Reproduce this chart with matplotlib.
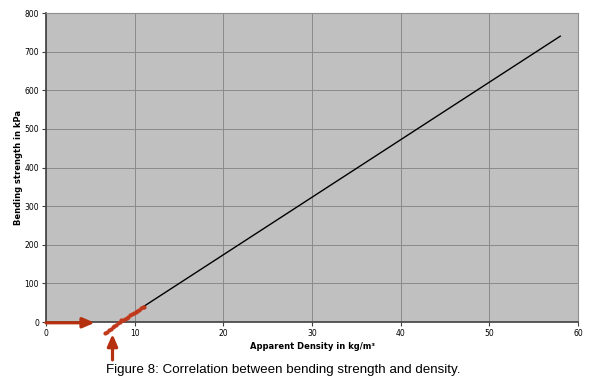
import matplotlib.pyplot as plt

# measured samples (red) and linear trend (black)
density = [6.7, 6.9, 7.1, 7.3, 7.5, 7.7, 7.9, 8.1, 8.3, 8.5, 8.7, 8.9, 9.1, 9.3, 9.5, 9.7, 9.9, 10.1, 10.3, 10.5, 10.7, 10.9, 11.0]
strength = [-29, -25, -22, -18, -14, -11, -7, -3, 0, 4, 6, 8, 11, 13, 17, 20, 23, 26, 29, 32, 35, 38, 40]
trend_x = [11, 58]
trend_y = [40, 740]
x_ticks = [0, 10, 20, 30, 40, 50, 60]
y_ticks = [0, 100, 200, 300, 400, 500, 600, 700, 800]

fig = plt.figure(figsize=(5.94, 3.88), dpi=100)
ax = fig.add_axes([46/594, 1-322/388, (578-46)/594, (322-13)/388])
ax.set_facecolor('#c0c0c0')
ax.set_xlim(0, 60)
ax.set_ylim(0, 800)
ax.set_xticks(x_ticks)
ax.set_yticks(y_ticks)
ax.grid(True, color='#8a8a8a', linewidth=0.7)
ax.set_axisbelow(True)
for s in ['top', 'right']:
    ax.spines[s].set_color('#909090')
    ax.spines[s].set_linewidth(0.8)
for s in ['left', 'bottom']:
    ax.spines[s].set_color('#404040')
    ax.spines[s].set_linewidth(1.2)
ax.tick_params(labelsize=5.5, length=3, width=0.8, color='#404040', pad=2)

ax.plot(trend_x, trend_y, color='black', linewidth=1)
ax.plot(density, strength, 'o', color='#c0391b', markersize=2, clip_on=False, zorder=5)

# red arrows
arr = dict(arrowstyle='-|>,head_width=0.3,head_length=0.7', color='#b5300f', lw=2.3, shrinkA=0, shrinkB=0)
ax.annotate('', xy=(5.5, -2), xytext=(0, -2), annotation_clip=False, arrowprops=arr)
ax.annotate('', xy=(7.5, -31), xytext=(7.5, -98), annotation_clip=False, arrowprops=arr)

ax.set_xlabel('Apparent Density in kg/m³', fontsize=6, fontweight='bold', labelpad=3)
ax.set_ylabel('Bending strength in kPa', fontsize=6, fontweight='bold', labelpad=1)
fig.text(0.477, 0.038, 'Figure 8: Correlation between bending strength and density.', ha='center', fontsize=9.6, family='Liberation Sans')
fig.savefig('out.png', dpi=100)
